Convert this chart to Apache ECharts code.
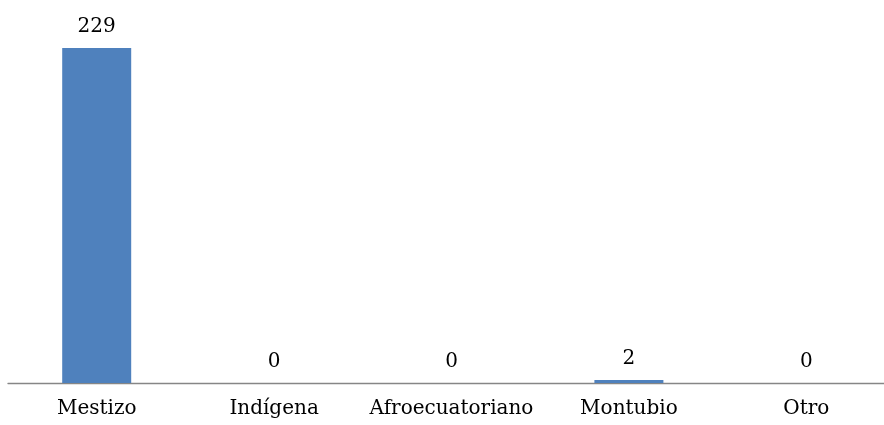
<!DOCTYPE html>
<html>
<head>
<meta charset="utf-8">
<script src="https://cdn.jsdelivr.net/npm/echarts@6/dist/echarts.min.js"></script>
<style>html,body{margin:0;padding:0;background:#fff}#c{width:884px;height:425px}</style>
</head>
<body>
<div id="c"></div>
<script>
var categories = ["Mestizo", "Indígena", "Afroecuatoriano", "Montubio", "Otro"];
var values = [229, 0, 0, 2, 0];

var chart = echarts.init(document.getElementById('c'));
chart.setOption({
  animation: false,
  textStyle: { fontFamily: 'DejaVu Serif' },
  grid: { left: 8, top: 48, bottom: 42, width: 887, outerBoundsMode: 'none', containLabel: false },
  xAxis: {
    type: 'category',
    data: categories,
    axisLine: { lineStyle: { color: '#868686', width: 1.3 } },
    axisTick: { show: false },
    axisLabel: { color: '#000', fontSize: 20, fontFamily: 'DejaVu Serif', margin: 16, interval: 0 }
  },
  yAxis: {
    type: 'value',
    min: 0,
    max: 229,
    show: false,
    splitLine: { show: false }
  },
  series: [{
    type: 'bar',
    data: values,
    barWidth: 69,
    itemStyle: { color: '#4F81BD' },
    label: {
      show: true,
      position: 'top',
      distance: 11,
      color: '#000',
      fontSize: 20,
      fontFamily: 'DejaVu Serif'
    }
  }]
});
</script>
</body>
</html>
